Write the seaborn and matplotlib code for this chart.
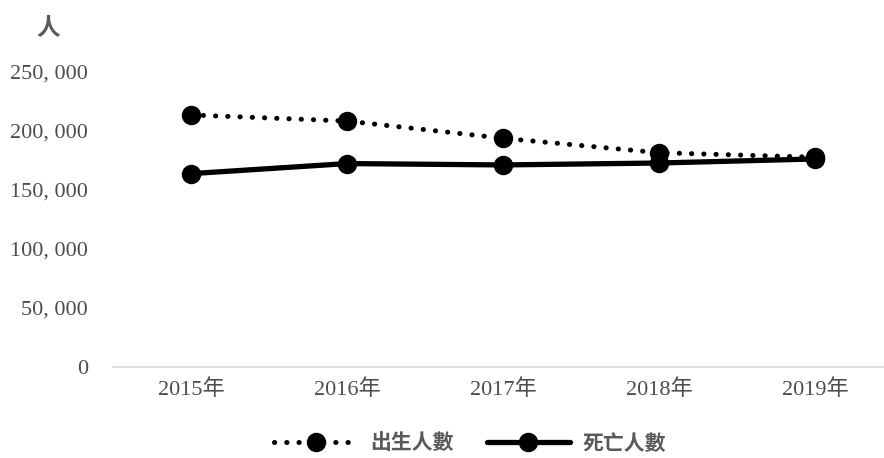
import matplotlib
matplotlib.use("Agg")
import matplotlib.pyplot as plt
import pandas as pd
import seaborn as sns

# Taiwan births / deaths by year
years = ["2015年", "2016年", "2017年", "2018年", "2019年"]
births = [213598, 208440, 193844, 181601, 177767]
deaths = [163858, 172405, 171242, 172859, 176296]
yticks = [0, 50000, 100000, 150000, 200000, 250000]

sns.set_theme(style="white")
plt.rcParams['font.family'] = ['Liberation Serif', 'Noto Sans CJK TC', 'DejaVu Sans']

grey = "#595959"

df = pd.DataFrame({"pos": range(len(years)), "births": births, "deaths": deaths})

fig = plt.figure(figsize=(8.84, 4.58), dpi=100)
ax = fig.add_axes([113 / 884, 1 - 367 / 458, 780 / 884, 295 / 458])

sns.lineplot(data=df, x="pos", y="births", ax=ax, color="black", lw=3.6,
             marker="o", markersize=14, markeredgewidth=0,
             dashes=False, label="出生人數")
ax.lines[-1].set_linestyle((0, (0.05, 2.4)))
ax.lines[-1].set_dash_capstyle("round")
sns.lineplot(data=df, x="pos", y="deaths", ax=ax, color="black", lw=3.8,
             marker="o", markersize=14, markeredgewidth=0, label="死亡人數")

ax.set_xlim(-0.5, len(years) - 0.5)
ax.set_ylim(0, 250000)
ax.set_xticks(range(len(years)))
ax.set_xticklabels(years)
ax.set_yticks(yticks)
ax.set_yticklabels([f"{v:,}".replace(",", ", ") for v in yticks])
ax.tick_params(axis="both", colors="#4d4d4d", labelsize=16, length=0)
ax.tick_params(axis="y", pad=18)
ax.tick_params(axis="x", pad=9)
ax.set_xlabel("")
ax.set_ylabel("")

for side in ["top", "right", "left"]:
    ax.spines[side].set_visible(False)
ax.spines["bottom"].set_color("#d9d9d9")
ax.spines["bottom"].set_linewidth(1.2)

fig.text(48 / 884, 1 - 28 / 458, "人", color=grey, fontsize=17,
         fontweight="bold", ha="center", va="center",
         family=['Noto Sans CJK TC'])

leg = ax.legend(loc="center", bbox_to_anchor=(470 / 884, 1 - 443 / 458),
                bbox_transform=fig.transFigure, ncol=2, frameon=False,
                handlelength=4.0, columnspacing=1.6, handletextpad=0.6,
                prop={"family": ['Noto Sans CJK TC'], "size": 15, "weight": "bold"})
for t in leg.get_texts():
    t.set_color(grey)

fig.savefig("out.png", dpi=100)
